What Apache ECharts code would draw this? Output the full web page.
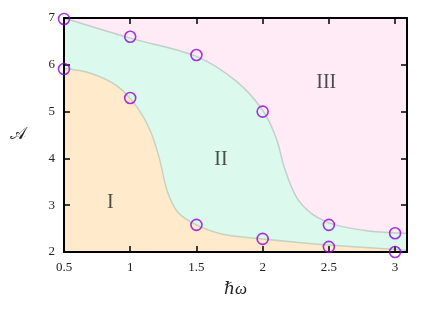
<!DOCTYPE html>
<html><head><meta charset="utf-8">
<script src="https://cdn.jsdelivr.net/npm/echarts@6/dist/echarts.min.js"></script>
<style>html,body{margin:0;padding:0;background:#fff}#c{width:436px;height:309px}</style>
</head><body><div id="c"></div>
<script>
// Boundary between region I and II
const lowerX = [0.5, 0.7, 0.9, 1.05, 1.15, 1.22, 1.28, 1.36, 1.5, 1.7, 2.0, 2.5, 3.0, 3.09];
const lowerY = [5.92, 5.82, 5.55, 5.1, 4.6, 4.0, 3.3, 2.85, 2.58, 2.38, 2.28, 2.15, 2.06, 2.04];
// Boundary between region II and III
const upperX = [0.5, 1.0, 1.5, 1.8, 2.0, 2.1, 2.17, 2.26, 2.38, 2.55, 2.8, 3.09];
const upperY = [7.0, 6.57, 6.18, 5.65, 5.03, 4.45, 3.75, 3.15, 2.8, 2.58, 2.45, 2.4];
// Marker circles
const ptX = [0.5, 1.0, 1.5, 2.0, 2.5, 3.0];
const ptLowerY = [5.91, 5.29, 2.58, 2.28, 2.11, 2.0];
const ptUpperY = [6.98, 6.6, 6.21, 5.0, 2.58, 2.4];
// Region labels
const regionNames = ['I', 'II', 'III'];
const regionX = [0.85, 1.685, 2.48];
const regionY = [3.05, 3.97, 5.61];

const serif = '"Liberation Serif", "DejaVu Serif", serif';
const zip = (xs, ys) => xs.map((x, i) => [x, ys[i]]);

const chart = echarts.init(document.getElementById('c'), null, {renderer: 'canvas'});
const axisCommon = {
  min: 0.5, max: 3.09, interval: 0.5,
  axisLine: {show: true, onZero: false, lineStyle: {color: '#000', width: 2}},
  axisTick: {show: true, inside: true, length: 6, lineStyle: {color: '#000', width: 1.5}},
  splitLine: {show: false}, z: 5
};
const yCommon = {
  min: 2, max: 7, interval: 1,
  axisLine: {show: true, onZero: false, lineStyle: {color: '#000', width: 2}},
  axisTick: {show: true, inside: true, length: 6, lineStyle: {color: '#000', width: 1.5}},
  splitLine: {show: false}, z: 5
};
chart.setOption({
  animation: false,
  grid: {left: 64, right: 29, top: 18, bottom: 57, show: true, backgroundColor: '#ffebf6', borderWidth: 0},
  xAxis: [
    Object.assign({type: 'value', position: 'bottom',
      name: 'ℏω', nameLocation: 'middle', nameGap: 29,
      nameTextStyle: {fontFamily: serif, fontStyle: 'italic', fontSize: 17, color: '#222'},
      axisLabel: {fontFamily: serif, fontSize: 13, color: '#222', margin: 9, showMaxLabel: false}
    }, axisCommon),
    Object.assign({type: 'value', position: 'top', axisLabel: {show: false}}, axisCommon)
  ],
  yAxis: [
    Object.assign({type: 'value', position: 'left',
      name: '𝒜', nameLocation: 'middle', nameGap: 38, nameRotate: 0,
      nameTextStyle: {fontFamily: serif, fontSize: 17, color: '#222'},
      axisLabel: {fontFamily: serif, fontSize: 13, color: '#222', margin: 9}
    }, yCommon),
    Object.assign({type: 'value', position: 'right', axisLabel: {show: false}}, yCommon)
  ],
  series: [
    {type: 'line', data: zip(upperX, upperY), smooth: 0.35, symbol: 'none',
     lineStyle: {color: 'rgba(150,160,155,0.45)', width: 1.5},
     areaStyle: {color: '#dbfaed', opacity: 1, origin: 'start'}, z: 2},
    {type: 'line', data: zip(lowerX, lowerY), smooth: 0.35, symbol: 'none',
     lineStyle: {color: 'rgba(150,170,160,0.45)', width: 1.5},
     areaStyle: {color: '#ffeacc', opacity: 1, origin: 'start'}, z: 3},
    {type: 'scatter', data: regionNames.map((n, i) => ({name: n, value: [regionX[i], regionY[i]]})),
     symbolSize: 0, z: 8,
     label: {show: true, position: 'inside', formatter: '{b}', fontFamily: serif, fontSize: 20, color: '#222'}},
    {type: 'scatter', data: zip(ptX, ptLowerY).concat(zip(ptX, ptUpperY)), clip: false,
     symbol: 'circle', symbolSize: 11, z: 10,
     itemStyle: {color: 'rgba(0,0,0,0)', borderColor: '#9400d3', borderWidth: 1.6}}
  ]
});
</script></body></html>
